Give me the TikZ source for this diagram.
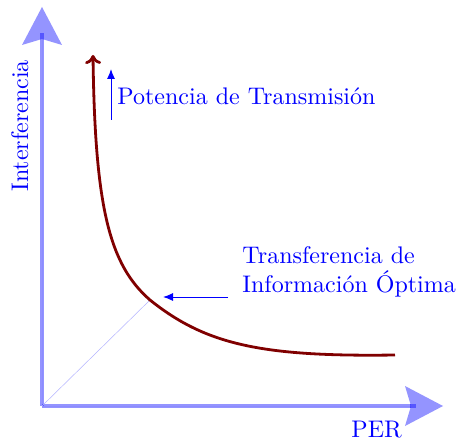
\documentclass[tikz,border=0pt]{standalone}
\usetikzlibrary{arrows.meta}
\begin{document}
\begin{tikzpicture}[x=1pt,y=-1pt,
  axisline/.style={draw=blue,draw opacity=0.42,line width=3.5pt},
  axis/.style={axisline,fill=blue,fill opacity=0.42,
    -{Stealth[length=38pt,width=40pt,inset=6pt,line width=0pt]}},
  curve/.style={draw={rgb,255:red,128;green,0;blue,0},line width=2.8pt},
  pointer/.style={draw=blue,line width=1pt,-{Latex[length=10pt,width=8pt]}},
  guide/.style={draw=blue!30,line width=0.5pt},
  lbl/.style={text=blue,font=\normalsize,inner sep=0pt,scale=2.4,transform shape}]
\useasboundingbox (0,0) rectangle (458,441);
% coordinates
\coordinate (O) at (42,406);
\coordinate (ytip) at (42,7);
\coordinate (xtip) at (443,406);
\coordinate (yin1) at (42,39);
\coordinate (yin2) at (42,33);
\coordinate (xin1) at (410,406);
\coordinate (xin2) at (416,406);
\coordinate (ctop) at (93,55);
\coordinate (cmid) at (150,300);
\coordinate (cend) at (395,355);
\coordinate (pA) at (111,120);
\coordinate (pB) at (111,69);
\coordinate (tA) at (228,297);
\coordinate (tB) at (163,297);
% axes
\draw[axis] (O) -- (ytip);
\draw[axis] (O) -- (xtip);
\draw[axisline] (yin1) -- (yin2);
\draw[axisline] (xin1) -- (xin2);
% guide
\draw[guide] (O) -- (cmid);
% curve
\draw[curve,{Computer Modern Rightarrow[length=9pt,width=16pt]}-] (ctop) .. controls (95,210) and (110,265) .. (cmid)
  .. controls (205,344) and (260,357) .. (cend);
% pointers
\draw[pointer] (pA) -- (pB);
\draw[pointer] (tA) -- (tB);
% labels
\node[lbl,rotate=90,anchor=base west] (ylab) at (28,192) {Interferencia};
\node[lbl,anchor=base west] (xlab) at (351,437) {PER};
\node[lbl,anchor=base west] (pot) at (117,105) {Potencia de Transmisión};
\node[lbl,anchor=base west,align=left] (tio) at (242,292) {Transferencia de\\Información Óptima};
\end{tikzpicture}
\end{document}
